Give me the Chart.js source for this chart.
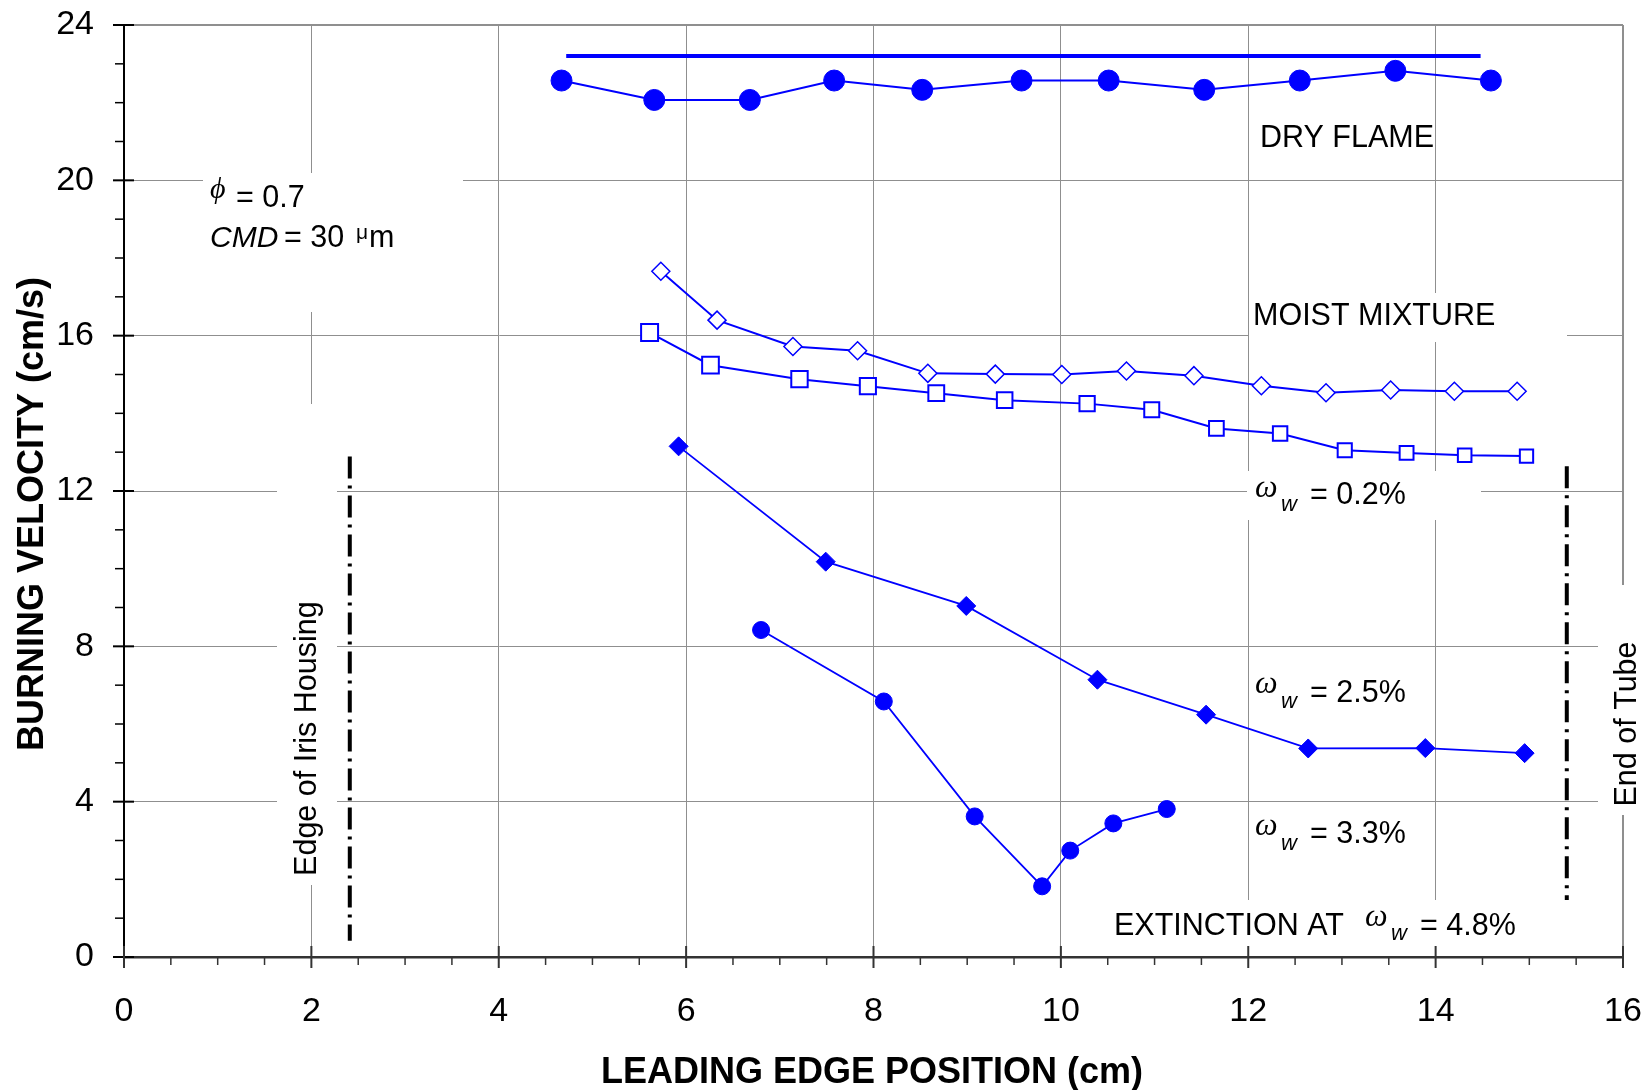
<!DOCTYPE html>
<html>
<head>
<meta charset="utf-8">
<script src="https://cdn.jsdelivr.net/npm/chart.js@4.4.1/dist/chart.umd.min.js"></script>
<style>
  html, body { margin: 0; padding: 0; background: #fff; }
  #wrap { width: 1645px; height: 1090px; }
</style>
</head>
<body>
<div id="wrap"><canvas id="mycanvas"></canvas></div>
<script>
// values: leading edge position (cm) vs burning velocity (cm/s)
var dryX = [4.67, 5.66, 6.68, 7.58, 8.52, 9.58, 10.51, 11.53, 12.55, 13.57, 14.59];
var dryY = [22.57, 22.07, 22.07, 22.57, 22.33, 22.57, 22.57, 22.33, 22.57, 22.82, 22.57];
var dryLineX = [4.72, 14.48];
var dryLineY = [23.2, 23.2];

var moistX = [5.73, 6.33, 7.14, 7.83, 8.58, 9.30, 10.01, 10.70, 11.42, 12.14, 12.83, 13.52, 14.20, 14.87];
var moistY = [17.66, 16.40, 15.72, 15.61, 15.03, 15.01, 15.00, 15.09, 14.97, 14.71, 14.53, 14.60, 14.57, 14.57];

var w02X = [5.61, 6.26, 7.21, 7.94, 8.67, 9.40, 10.28, 10.97, 11.66, 12.34, 13.03, 13.69, 14.31, 14.97];
var w02Y = [16.08, 15.24, 14.88, 14.70, 14.52, 14.34, 14.25, 14.09, 13.61, 13.48, 13.05, 12.98, 12.92, 12.90];

var w25X = [5.92, 7.49, 8.99, 10.39, 11.55, 12.64, 13.89, 14.95];
var w25Y = [13.15, 10.18, 9.04, 7.14, 6.24, 5.37, 5.38, 5.25];

var w33X = [6.80, 8.11, 9.08, 9.80, 10.10, 10.56, 11.13];
var w33Y = [8.42, 6.58, 3.62, 1.82, 2.74, 3.44, 3.81];

var irisX = [2.41, 2.41];
var irisY = [12.89, 0.42];
var tubeX = [15.40, 15.40];
var tubeY = [12.64, 1.47];

var xTicks = [0, 2, 4, 6, 8, 10, 12, 14, 16];
var yTicks = [0, 4, 8, 12, 16, 20, 24];

var BLUE = '#0000ff';
var SANS = '"Liberation Sans", Arial, sans-serif';
var SERIF = '"Liberation Serif", "DejaVu Serif", serif';

function pts(xs, ys) {
	return xs.map(function(x, i) { return {x: x, y: ys[i]}; });
}

function txt(ctx, s, x, y, font) {
	ctx.font = font;
	ctx.fillText(s, x, y);
}

var decor = {
	id: 'decor',
	beforeDatasetsDraw: function(chart) {
		var ctx = chart.ctx;
		// white boxes behind the labels, they hide the grid
		var boxes = [
			[203, 173, 463, 312],
			[1249, 293, 1567, 342],
			[1247, 471, 1481, 520],
			[277, 404, 337, 885],
			[1598, 585, 1645, 815],
			[1100, 900, 1535, 955]
		];
		ctx.save();
		ctx.fillStyle = '#fff';
		boxes.forEach(function(b) { ctx.fillRect(b[0], b[1], b[2] - b[0], b[3] - b[1]); });
		ctx.restore();
	},
	afterDatasetsDraw: function(chart) {
		var ctx = chart.ctx;
		var f = '30.5px ' + SANS;
		ctx.save();
		ctx.fillStyle = '#000';
		ctx.textBaseline = 'alphabetic';
		ctx.textAlign = 'left';

		txt(ctx, 'DRY FLAME', 1260, 147, f);
		txt(ctx, 'MOIST MIXTURE', 1253, 325, f);

		txt(ctx, '\u03D5', 210, 198, 'italic 30px ' + SERIF);
		txt(ctx, '= 0.7', 236, 207, f);
		txt(ctx, 'CMD', 210, 247, 'italic 30px ' + SANS);
		txt(ctx, '= 30', 284, 247, f);
		txt(ctx, '\u03BC', 356, 239, '21px ' + SANS);
		txt(ctx, 'm', 369, 247, f);

		var omegas = [[1255, 497, 511, 504, '= 0.2%'], [1255, 693, 708, 702, '= 2.5%'], [1255, 835, 850, 843, '= 3.3%']];
		omegas.forEach(function(o) {
			txt(ctx, '\u03C9', o[0], o[1], 'italic 32px ' + SERIF);
			txt(ctx, 'w', o[0] + 26, o[2], 'italic 22px ' + SANS);
			txt(ctx, o[4], 1310, o[3], f);
		});

		txt(ctx, 'EXTINCTION AT', 1114, 935, f);
		txt(ctx, '\u03C9', 1365, 926, 'italic 32px ' + SERIF);
		txt(ctx, 'w', 1391, 940, 'italic 22px ' + SANS);
		txt(ctx, '= 4.8%', 1420, 935, f);

		ctx.textAlign = 'center';
		ctx.font = '30.5px ' + SANS;
		ctx.save();
		ctx.translate(315.5, 738.6);
		ctx.rotate(-Math.PI / 2);
		ctx.fillText('Edge of Iris Housing', 0, 0);
		ctx.restore();
		ctx.save();
		ctx.translate(1636, 724);
		ctx.rotate(-Math.PI / 2);
		ctx.fillText('End of Tube', 0, 0);
		ctx.restore();

		// axis titles
		ctx.font = 'bold 36px ' + SANS;
		ctx.fillText('LEADING EDGE POSITION (cm)', 872, 1083);
		ctx.save();
		ctx.translate(43, 514);
		ctx.rotate(-Math.PI / 2);
		ctx.fillText('BURNING VELOCITY (cm/s)', 0, 0);
		ctx.restore();
		ctx.restore();
	},
	afterDraw: function(chart) {
		var ctx = chart.ctx;
		var xs = chart.scales.x, ys = chart.scales.y;
		var L = chart.chartArea.left, B = chart.chartArea.bottom;
		function ln(x1, y1, x2, y2) {
			ctx.beginPath();
			ctx.moveTo(x1, y1);
			ctx.lineTo(x2, y2);
			ctx.stroke();
		}
		ctx.save();
		ctx.strokeStyle = '#000';
		for (var v = 0; v <= 24; v += 1) {
			var py = ys.getPixelForValue(v);
			if (v % 4 === 0) { ctx.lineWidth = 2; ln(L - 11, py, L + 10, py); }
			else { ctx.lineWidth = 1.5; ln(L - 9, py, L, py); }
		}
		ctx.strokeStyle = '#333';
		for (var u = 0; u <= 16; u += 0.5) {
			var px = xs.getPixelForValue(u);
			if (u % 2 === 0) { ctx.lineWidth = 2; ln(px, B - 11, px, B + 11); }
			else { ctx.lineWidth = 1.5; ln(px, B, px, B + 8); }
		}
		ctx.restore();
	}
};

var ctx = document.getElementById('mycanvas');

var chart = new Chart(ctx, {
	type: 'scatter',
	data: {
		datasets: [
			{
				data: pts(dryLineX, dryLineY),
				showLine: true, borderColor: BLUE, borderWidth: 4, pointRadius: 0
			},
			{
				data: pts(dryX, dryY),
				showLine: true, borderColor: BLUE, backgroundColor: BLUE, borderWidth: 2,
				pointStyle: 'circle', pointRadius: 10.5, pointBorderWidth: 1
			},
			{
				data: pts(moistX, moistY),
				showLine: true, borderColor: BLUE, borderWidth: 2,
				pointStyle: 'rectRot', pointRadius: 9, pointBackgroundColor: '#fff', pointBorderWidth: 1.5
			},
			{
				data: pts(w02X, w02Y),
				showLine: true, borderColor: BLUE, borderWidth: 2,
				pointStyle: 'rect',
				pointRadius: function(c) { return 12 - c.dataIndex * 0.2; },
				pointBackgroundColor: '#fff', pointBorderWidth: 2
			},
			{
				data: pts(w25X, w25Y),
				showLine: true, borderColor: BLUE, backgroundColor: BLUE, borderWidth: 1.8,
				pointStyle: 'rectRot', pointRadius: 9.5, pointBorderWidth: 1
			},
			{
				data: pts(w33X, w33Y),
				showLine: true, borderColor: BLUE, backgroundColor: BLUE, borderWidth: 1.8,
				pointStyle: 'circle', pointRadius: 8.5, pointBorderWidth: 1
			},
			{
				data: pts(irisX, irisY),
				showLine: true, borderColor: '#000', borderWidth: 4, borderDash: [22, 7, 3, 7], pointRadius: 0
			},
			{
				data: pts(tubeX, tubeY),
				showLine: true, borderColor: '#000', borderWidth: 4, borderDash: [22, 7, 3, 7], pointRadius: 0
			}
		]
	},
	options: {
		responsive: true,
		maintainAspectRatio: false,
		animation: false,
		layout: { autoPadding: false, padding: { top: 25, right: 22, left: 0, bottom: 0 } },
		plugins: { legend: { display: false }, tooltip: { enabled: false } },
		elements: { line: { tension: 0 } },
		scales: {
			x: {
				type: 'linear', min: 0, max: 16,
				afterBuildTicks: function(s) { s.ticks = xTicks.map(function(v) { return {value: v}; }); },
				afterFit: function(s) { s.height = 133; },
				ticks: { color: '#000', font: { family: SANS, size: 34 }, padding: 0, maxRotation: 0 },
				grid: {
					color: '#8f8f8f', drawTicks: true, tickLength: 34, tickColor: 'rgba(0,0,0,0)',
					lineWidth: function(c) { return c.tick && c.tick.value === 16 ? 2 : 1; }
				},
				border: { color: '#333', width: 2.5 }
			},
			y: {
				type: 'linear', min: 0, max: 24,
				afterBuildTicks: function(s) { s.ticks = yTicks.map(function(v) { return {value: v}; }); },
				afterFit: function(s) { s.width = 124; },
				ticks: { color: '#000', font: { family: SANS, size: 34 }, padding: 0 },
				grid: {
					color: '#8f8f8f', drawTicks: true, tickLength: 30, tickColor: 'rgba(0,0,0,0)',
					lineWidth: function(c) { return c.tick && c.tick.value === 24 ? 2 : 1; }
				},
				border: { color: '#000', width: 2 }
			}
		}
	},
	plugins: [decor]
});
</script>
</body>
</html>
